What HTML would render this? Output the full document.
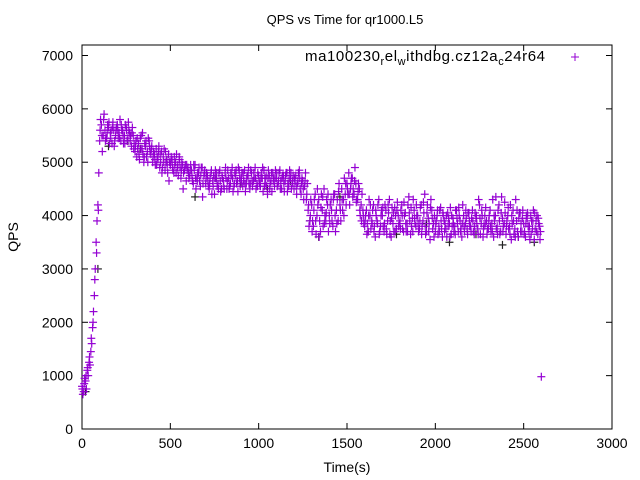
<!DOCTYPE html>
<html><head><meta charset="utf-8"><style>
body{margin:0;background:#fff}
svg{display:block;font-family:"Liberation Sans",sans-serif}
</style></head><body>
<svg id="chart" width="640" height="480">
<text x="345" y="24" text-anchor="middle" font-size="13">QPS vs Time for qr1000.L5</text>
<rect x="82" y="45" width="530" height="384" fill="none" stroke="#000" stroke-width="1"/>
<g id="ticks"></g>
<g id="pts"></g>
<text x="347" y="472" text-anchor="middle" font-size="14">Time(s)</text>
<text transform="translate(18,237) rotate(-90)" text-anchor="middle" font-size="14">QPS</text>
<text x="305" y="61" font-size="15" textLength="240" lengthAdjust="spacing">ma100230<tspan font-size="11" dy="4">r</tspan><tspan dy="-4">el</tspan><tspan font-size="11" dy="4">w</tspan><tspan dy="-4">ithdbg.cz12a</tspan><tspan font-size="11" dy="4">c</tspan><tspan dy="-4">24r64</tspan></text>
<g stroke="#9400d3"><line x1="571" y1="57" x2="579" y2="57"/><line x1="575" y1="53" x2="575" y2="61"/></g>
</svg>
<script>
const xTicks=[0,500,1000,1500,2000,2500,3000];
const yTicks=[0,1000,2000,3000,4000,5000,6000,7000];
const seriesA=[800,700,900,1100,1250,1450,1900,2500,3500,4200,
5400,5700,5500,5600,5450,5650,5550,5350,5600,5500,
5700,5550,5400,5600,5500,5650,5450,5550,5300,5500,
5200,5100,5350,5450,5250,5000,5300,5200,5400,5150,
5000,5150,5250,5050,4900,5200,5100,4850,5050,5150,
4950,5050,4800,5000,4900,5100,4700,4950,4850,4650,
4900,4750,4850,4600,4950,4700,4800,4550,4900,4750,
4600,4750,4500,4800,4650,4400,4700,4600,4850,4500,
4650,4800,4500,4700,4600,4900,4550,4750,4650,4850,
4700,4550,4850,4600,4750,4500,4800,4650,4900,4600,
4750,4550,4700,4850,4600,4400,4750,4650,4800,4550,
4700,4600,4850,4500,4750,4650,4800,4550,4700,4600,
4500,4750,4600,4850,4400,4650,4550,4300,4100,3900,
4200,3800,4400,4000,4300,3700,4100,4500,3900,4200,
4000,4300,3800,4400,4100,3900,4200,4500,4300,4400,
4600,4800,4500,4700,4400,4600,4300,4500,4200,4100,
3800,4100,3700,4000,3900,4200,3600,3900,4300,3800,
4000,3700,4100,3900,4300,3600,3850,4150,3750,4000,
3900,4200,3700,4050,3850,4350,3650,3950,4100,3800,
4000,3750,4200,3900,4400,3700,3950,3550,4100,3850,
3700,4000,3800,4150,3600,3900,3750,4050,3850,3650,
3950,3800,4100,3700,3900,3600,4000,3850,3750,4050,
3800,4100,3650,3950,3750,4200,3850,3600,4000,3900,
3750,4100,3850,3600,4000,3800,4200,3700,3950,3850,
3650,4000,3800,3550,4100,3750,3900,3600,4050,3700,
3850,3600,3950,3700,4000,3750,3550,3900,3650,3800];
const seriesB=[650,950,750,1000,1200,1600,2200,3000,3900,4800,
5800,5200,5900,5450,5700,5350,5600,5750,5400,5650,
5450,5800,5600,5350,5700,5400,5600,5500,5650,5350,
5400,5250,5050,5500,5150,5350,5100,5450,5200,5300,
5200,4950,5100,5300,5000,4900,5250,5000,4800,5000,
5100,4850,4950,5150,4750,4900,5000,4800,4950,4850,
4700,4950,4650,4850,4500,4800,4650,4900,4600,4850,
4800,4550,4700,4400,4750,4850,4550,4800,4450,4700,
4500,4700,4850,4550,4750,4450,4800,4600,4900,4550,
4800,4650,4450,4750,4600,4850,4550,4700,4500,4800,
4600,4800,4450,4700,4550,4850,4600,4450,4700,4850,
4550,4800,4650,4750,4450,4800,4600,4850,4500,4750,
4650,4400,4800,4500,4700,4300,4800,4600,3800,4300,
3900,4300,3650,4200,3900,4400,3800,4000,4300,3700,
4200,3900,4400,3700,4300,4600,3900,4100,4700,4200,
4400,4200,4700,4500,4900,4300,4600,4000,4400,3850,
4000,3850,4300,3750,4100,3800,4000,4200,3700,4100,
3800,4200,3650,4050,3900,4150,3700,4000,4250,3850,
4100,3750,4000,3700,4200,3900,3800,4300,3850,4000,
3700,4150,3800,4050,3650,4200,3850,4300,3750,4000,
3900,3650,4100,3750,4000,3850,3600,3950,4150,3800,
3700,4100,3850,4000,3750,4200,3700,3950,4050,3800,
3950,3700,4050,3850,4300,3650,4000,3800,4150,3750,
4000,3700,4300,3900,3750,4100,3650,4350,3800,4050,
3900,3750,4200,3850,3650,4300,3700,4050,3850,4100,
3700,4000,3800,3550,3900,4100,3750,4000,3850,3700];
const seriesC=[750,850,1000,1150,1350,1700,2000,2800,3300,4100,
5600,5500,5800,5400,5550,5750,5450,5650,5300,5600,
5600,5450,5700,5500,5350,5600,5750,5400,5550,5250,
5300,5450,5150,5250,5550,5100,5400,5000,5300,5250,
5100,5050,4950,5200,5150,4800,5000,5200,4950,4650,
5000,4900,5100,4800,4950,5050,4850,4500,4900,4950,
4800,4850,4750,4950,4700,4650,4900,4750,4350,4800,
4700,4650,4600,4850,4550,4700,4800,4500,4650,4750,
4550,4900,4650,4500,4800,4700,4600,4850,4450,4700,
4650,4800,4600,4700,4900,4600,4650,4800,4700,4550,
4650,4700,4900,4550,4750,4700,4500,4800,4650,4700,
4800,4650,4500,4700,4600,4750,4450,4700,4800,4650,
4700,4550,4650,4700,4600,4500,4650,4400,4200,4000,
3700,4100,3900,4500,3600,4150,4350,3850,4050,4400,
3850,4100,4300,4000,3850,4450,4100,4300,4000,4600,
4500,4400,4600,4350,4650,4250,4450,4100,3900,4000,
3900,3650,4000,4200,3850,3700,4100,3850,3650,4000,
4150,3850,3750,4200,3650,3950,4050,3700,4100,3800,
3750,4000,4250,3850,3700,4050,4150,3700,3950,4200,
3850,3900,3650,4250,3800,4050,3700,4150,3950,3600,
3850,4100,3700,3900,4050,3700,4000,3800,3600,4000,
3850,3650,3950,4150,3700,3850,3800,4100,3650,3900,
3700,3900,3800,4000,3650,3950,4100,3750,3850,3650,
3900,3800,3700,4000,4350,3650,3900,4050,3700,4250,
3800,4150,3650,4000,3900,3600,4100,3950,3700,3950,
3650,3850,4050,3800,3650,3900,4050,3700,3950,3550];
const blackTimes=[20,90,150,260,330,480,640,760,900,1050,1180,1290,1340,1460,1620,1780,1950,2080,2230,2380,2470,2560];
const blackVals=[700,3000,5300,5400,5250,5050,4350,4700,4600,4500,4650,3900,3600,4350,3700,3650,3850,3500,3650,3450,3600,3500];
const outlierTime=[2600];
const outlierVal=[980];
const X=v=>82+v/3000*530, Y=v=>429-v/7000*373.5;
const ns="http://www.w3.org/2000/svg";
const tg=document.getElementById('ticks'), pg=document.getElementById('pts');
function mk(tag,attrs,parent){const e=document.createElementNS(ns,tag);for(const k in attrs)e.setAttribute(k,attrs[k]);parent.appendChild(e);return e;}
xTicks.forEach(t=>{
 const g=mk('g',{},tg);
 
 
 mk('line',{x1:X(t),x2:X(t),y1:429,y2:423,stroke:'#000'},g);
 mk('line',{x1:X(t),x2:X(t),y1:45,y2:51,stroke:'#000'},g);
 const tx=mk('text',{x:X(t),y:448,'text-anchor':'middle','font-size':14},g);tx.textContent=t;
});
yTicks.forEach(t=>{
 const g=mk('g',{},tg);
 
 
 mk('line',{x1:82,x2:88,y1:Y(t),y2:Y(t),stroke:'#000'},g);
 mk('line',{x1:612,x2:606,y1:Y(t),y2:Y(t),stroke:'#000'},g);
 const tx=mk('text',{x:73,y:Y(t)+5,'text-anchor':'end','font-size':14},g);tx.textContent=t;
});
function plus(t,v,c){
 const g=mk('g',{stroke:c,'stroke-width':1.2},pg);
 
 
 mk('line',{x1:X(t)-4,x2:X(t)+4,y1:Y(v),y2:Y(v)},g);
 mk('line',{x1:X(t),x2:X(t),y1:Y(v)-4,y2:Y(v)+4},g);
}
blackTimes.forEach((t,i)=>plus(t,blackVals[i],'#222'));
seriesA.forEach((v,i)=>plus(i*10,v,'#9400d3'));
seriesB.forEach((v,i)=>plus(i*10+5,v,'#9400d3'));
seriesC.forEach((v,i)=>plus(i*10+2.5,v,'#9400d3'));
outlierTime.forEach((t,i)=>plus(t,outlierVal[i],'#9400d3'));
</script>
</body></html>
